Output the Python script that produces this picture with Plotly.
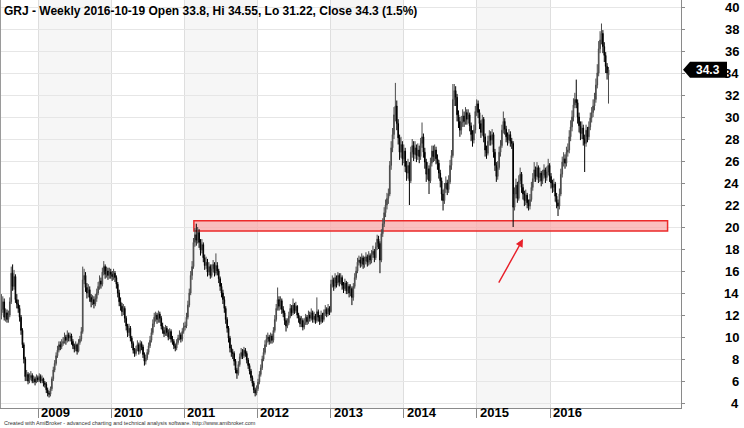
import plotly.graph_objects as go
import pandas as pd

# ---------------- data (weekly bars, GRJ) ----------------
first_week = "2008-07-02"

opens = [
    12.0, 12.5, 13.2, 11.8, 12.2, 11.6, 12.0, 13.2, 15.8, 14.6,
    15.5, 13.4, 13.0, 12.6, 11.8, 10.6, 9.3, 8.0, 6.4, 6.6,
    6.0, 6.3, 6.5, 6.0, 6.2, 5.9, 6.3, 6.1, 6.4, 6.0,
    6.2, 5.8, 5.7, 5.2, 4.9, 4.8, 5.3, 6.2, 7.0, 7.6,
    8.3, 8.8, 9.3, 9.1, 9.4, 9.6, 10.0, 9.7, 10.2, 9.9,
    10.1, 9.6, 9.2, 8.9, 9.3, 8.7, 9.5, 9.8, 10.5, 15.2,
    15.6, 14.5, 14.0, 14.3, 13.6, 13.2, 13.4, 13.0, 13.5, 14.0,
    14.6, 15.1, 14.8, 15.9, 16.4, 15.7, 16.0, 15.6, 15.9, 15.7,
    15.5, 15.8, 15.4, 14.8, 14.0, 13.2, 12.8, 12.3, 12.6, 11.7,
    11.0, 10.4, 10.8, 9.9, 9.4, 8.8, 8.5, 8.9, 9.3, 8.7,
    9.4, 9.1, 8.4, 7.8, 8.1, 8.6, 9.2, 9.7, 10.4, 11.2,
    11.8, 12.0, 11.6, 12.1, 11.7, 11.0, 10.6, 10.3, 10.8, 10.4,
    10.0, 10.5, 9.8, 9.6, 9.2, 9.0, 9.5, 9.9, 10.2, 9.8,
    10.5, 10.9, 11.0, 11.8, 12.9, 14.0, 15.6, 16.4, 18.6, 19.3,
    18.8, 19.5, 18.6, 17.9, 18.4, 17.2, 16.5, 16.8, 15.9, 16.4,
    15.6, 16.2, 16.6, 15.8, 16.5, 16.0, 15.3, 14.6, 14.0, 13.4,
    12.6, 11.6, 10.8, 9.9, 9.0, 8.6, 8.5, 7.8, 7.0, 6.7,
    7.5, 8.2, 8.6, 8.3, 8.8, 8.5, 7.9, 7.4, 6.9, 6.3,
    5.8, 5.2, 4.9, 5.3, 5.9, 6.6, 7.2, 8.0, 8.6, 9.3,
    9.8, 10.0, 9.6, 10.1, 9.7, 10.6, 11.6, 12.6, 13.4, 12.8,
    13.3, 12.5, 12.2, 11.5, 11.0, 11.3, 11.9, 12.6, 12.2, 12.9,
    12.4, 12.8, 12.0, 11.7, 11.2, 11.5, 10.9, 11.3, 11.8, 11.4,
    12.0, 11.7, 12.2, 11.6, 11.9, 11.5, 12.3, 11.8, 11.4, 12.0,
    11.6, 12.2, 12.5, 12.1, 12.6, 12.3, 14.8, 15.2, 14.6, 15.4,
    14.9, 15.6, 15.0, 15.4, 14.7, 14.4, 14.9, 14.2, 14.6, 14.0,
    14.4, 13.6, 14.6, 15.4, 16.0, 16.8, 17.0, 16.7, 17.2, 16.6,
    16.9, 17.3, 16.8, 17.4, 17.0, 17.5, 17.8, 17.2, 18.2, 18.9,
    18.5, 17.0, 19.4, 20.3, 21.3, 22.0, 22.6, 23.0, 25.6, 27.2,
    28.4, 30.2, 31.0, 29.4, 28.1, 26.8, 27.5, 26.2, 26.9, 25.5,
    24.9, 25.6, 24.2, 26.8, 27.4, 26.6, 27.2, 26.5, 27.0, 26.4,
    27.6, 28.2, 26.8, 25.9, 24.8, 25.3, 24.2, 25.8, 26.9, 26.4,
    27.0, 26.2, 25.8, 24.9, 24.2, 23.0, 22.4, 23.5, 24.0, 23.4,
    24.1, 25.6, 26.5, 31.6, 32.4, 31.8, 30.2, 29.6, 28.8, 29.5,
    30.1, 29.6, 30.4, 29.8, 30.2, 29.2, 28.4, 27.9, 28.8, 30.5,
    31.2, 30.4, 29.4, 28.6, 29.8, 28.2, 27.0, 26.7, 27.8, 28.3,
    27.9, 28.4, 26.8, 25.6, 24.6, 25.4, 26.8, 27.4, 28.8, 29.6,
    28.9, 28.2, 27.9, 28.4, 27.8, 27.6, 21.8, 23.0, 23.8, 22.6,
    24.2, 24.8, 23.6, 23.0, 22.4, 22.9, 22.2, 21.9, 22.5, 23.6,
    24.4, 25.2, 24.6, 25.4, 24.5, 24.9, 24.2, 24.7, 25.2, 24.5,
    25.0, 25.6, 24.6, 24.0, 23.6, 23.9, 22.8, 22.2, 21.9, 23.0,
    24.8, 25.9, 26.2, 25.8, 26.8, 27.0, 28.2, 29.1, 30.0, 31.1,
    31.6, 31.3, 30.0, 29.2, 28.5, 29.0, 28.0, 27.6, 28.8, 28.2,
    29.1, 29.9, 30.4, 31.0, 31.6, 32.9, 34.0, 36.2, 37.0, 37.6,
    36.4, 35.6, 34.6, 33.8,
]

highs = [
    13.9, 13.7, 13.5, 12.6, 12.5, 12.4, 13.6, 16.4, 16.6, 16.1,
    15.7, 13.9, 13.4, 12.9, 12.0, 10.8, 9.5, 8.2, 7.0, 6.8,
    6.7, 6.9, 6.7, 6.5, 6.4, 6.6, 6.5, 6.7, 6.6, 6.5,
    6.3, 6.0, 5.9, 5.4, 5.1, 5.5, 6.4, 7.3, 7.9, 8.6,
    9.2, 9.6, 9.6, 9.8, 10.0, 10.4, 10.2, 10.6, 10.4, 10.4,
    10.3, 9.8, 9.4, 9.6, 9.4, 9.8, 10.1, 10.9, 16.4, 16.2,
    15.9, 14.9, 14.8, 14.6, 13.9, 13.8, 13.7, 13.9, 14.4, 15.0,
    15.6, 15.4, 16.3, 16.9, 16.6, 16.4, 16.3, 16.3, 16.2, 16.0,
    16.2, 16.0, 15.6, 15.0, 14.3, 13.6, 13.1, 13.0, 12.8, 11.9,
    11.2, 11.2, 11.0, 10.1, 9.6, 9.0, 9.2, 9.7, 9.5, 9.7,
    9.6, 9.3, 8.6, 8.4, 8.9, 9.5, 10.1, 10.8, 11.6, 12.2,
    12.3, 12.2, 12.4, 12.3, 11.9, 11.3, 10.9, 11.1, 11.0, 10.7,
    10.8, 10.7, 10.1, 9.8, 9.4, 9.8, 10.2, 10.6, 10.4, 10.8,
    11.3, 11.4, 12.2, 13.3, 14.4, 16.0, 16.9, 19.0, 19.9, 20.3,
    20.0, 19.8, 18.9, 18.9, 18.6, 17.5, 17.3, 17.1, 16.8, 16.6,
    16.6, 17.0, 16.8, 17.6, 16.8, 16.2, 15.5, 14.9, 14.3, 13.7,
    12.8, 11.8, 11.0, 10.1, 9.3, 8.9, 8.7, 8.0, 7.2, 7.8,
    8.5, 9.0, 8.9, 9.1, 9.0, 8.7, 8.1, 7.6, 7.1, 6.5,
    6.0, 5.4, 5.6, 6.2, 6.9, 7.5, 8.3, 9.0, 9.7, 10.2,
    10.4, 10.2, 10.4, 10.3, 10.9, 12.0, 13.0, 14.5, 13.7, 13.7,
    13.5, 12.8, 12.4, 11.7, 11.7, 12.3, 13.0, 12.9, 13.5, 13.1,
    13.2, 12.9, 12.2, 11.9, 11.9, 11.7, 11.7, 12.1, 12.0, 12.4,
    12.3, 12.6, 12.4, 12.3, 12.1, 13.6, 12.5, 12.0, 12.4, 12.2,
    12.5, 12.9, 12.7, 13.0, 12.8, 15.2, 15.6, 15.4, 15.8, 15.6,
    15.9, 15.8, 15.8, 15.6, 15.0, 15.3, 15.1, 15.0, 14.8, 14.8,
    14.6, 14.9, 15.8, 16.4, 17.2, 17.4, 17.3, 17.6, 17.4, 17.3,
    17.7, 17.5, 17.8, 17.6, 17.9, 18.3, 18.0, 18.6, 19.3, 19.2,
    18.7, 19.8, 20.8, 21.8, 22.5, 23.1, 23.5, 26.0, 27.8, 29.0,
    30.9, 33.1, 31.5, 29.8, 28.4, 28.2, 27.8, 27.5, 27.2, 26.0,
    26.2, 25.9, 27.3, 28.0, 27.8, 27.8, 27.5, 27.6, 27.4, 28.1,
    29.5, 28.5, 27.2, 26.2, 25.9, 25.6, 26.3, 27.4, 27.4, 27.5,
    27.3, 26.6, 26.1, 25.2, 24.5, 23.4, 24.0, 24.6, 24.3, 24.7,
    26.1, 27.0, 33.0, 33.0, 32.8, 32.1, 30.6, 30.0, 30.1, 30.7,
    30.5, 30.9, 30.7, 30.7, 30.4, 29.5, 28.8, 29.3, 31.0, 31.6,
    31.5, 30.7, 29.7, 30.2, 30.0, 28.5, 27.4, 28.3, 28.8, 28.7,
    28.9, 28.6, 27.1, 25.9, 26.0, 27.3, 27.9, 29.3, 30.5, 29.9,
    29.2, 28.6, 28.9, 28.7, 28.1, 27.8, 23.6, 24.4, 24.1, 24.7,
    25.4, 25.0, 23.9, 23.3, 23.4, 23.1, 22.5, 23.0, 24.1, 24.9,
    25.9, 25.5, 25.9, 25.6, 25.4, 25.1, 25.2, 25.7, 25.4, 25.5,
    26.2, 25.8, 24.9, 24.3, 24.4, 24.1, 23.1, 22.5, 23.5, 25.3,
    26.4, 26.8, 26.6, 27.3, 27.6, 28.8, 29.7, 30.6, 31.7, 32.2,
    33.4, 31.6, 30.4, 29.6, 29.6, 29.3, 28.4, 29.3, 29.1, 29.6,
    30.4, 30.9, 31.6, 32.2, 33.5, 34.8, 36.9, 37.8, 38.5, 37.9,
    36.8, 35.9, 34.9, 34.55,
]

lows = [
    11.6, 12.2, 11.5, 11.4, 11.3, 11.3, 11.8, 13.0, 14.2, 14.3,
    13.1, 12.6, 12.2, 11.4, 10.2, 9.0, 7.6, 6.0, 6.0, 5.7,
    5.8, 6.1, 5.8, 5.8, 5.6, 5.8, 5.9, 5.9, 5.8, 5.8,
    5.5, 5.4, 4.9, 4.6, 4.5, 4.6, 5.1, 6.0, 6.8, 7.4,
    8.1, 8.6, 8.8, 8.9, 9.2, 9.4, 9.3, 9.5, 9.6, 9.6,
    9.3, 8.9, 8.6, 8.7, 8.4, 8.6, 9.3, 9.6, 10.3, 14.8,
    14.1, 13.5, 13.6, 13.2, 12.7, 12.9, 12.6, 12.8, 13.2, 13.8,
    14.3, 14.4, 14.6, 15.6, 15.3, 15.4, 15.2, 15.3, 15.3, 15.1,
    15.2, 15.0, 14.4, 13.6, 12.8, 12.4, 11.9, 12.0, 11.3, 10.6,
    10.0, 10.1, 9.6, 9.0, 8.5, 8.2, 8.3, 8.7, 8.4, 8.5,
    8.8, 8.1, 7.4, 7.5, 7.9, 8.4, 9.0, 9.5, 10.2, 10.9,
    11.4, 11.2, 11.3, 11.3, 10.7, 10.3, 10.0, 10.1, 10.1, 9.7,
    9.8, 9.5, 9.3, 8.9, 8.7, 8.8, 9.3, 9.7, 9.5, 9.6,
    10.3, 10.6, 10.8, 11.6, 12.7, 13.8, 15.2, 16.2, 18.2, 18.3,
    18.5, 18.1, 17.4, 17.6, 16.8, 16.1, 16.2, 15.5, 15.6, 15.3,
    15.4, 15.9, 15.5, 15.6, 15.6, 14.9, 14.2, 13.6, 13.0, 12.2,
    11.2, 10.4, 9.5, 8.6, 8.2, 8.0, 7.4, 6.7, 6.2, 6.5,
    7.3, 8.0, 8.0, 8.1, 8.2, 7.6, 7.1, 6.6, 6.0, 5.5,
    4.9, 4.6, 4.7, 5.1, 5.7, 6.4, 7.0, 7.8, 8.4, 9.1,
    9.5, 9.3, 9.4, 9.4, 9.5, 10.4, 11.4, 12.4, 12.4, 12.5,
    12.1, 11.8, 11.1, 10.5, 10.8, 11.1, 11.7, 11.9, 12.0, 12.1,
    12.2, 11.7, 11.3, 10.9, 10.9, 10.6, 10.7, 11.1, 11.1, 11.2,
    11.4, 11.5, 11.3, 11.3, 11.2, 11.3, 11.4, 11.1, 11.2, 11.3,
    11.4, 11.9, 11.8, 11.9, 12.0, 12.2, 14.5, 14.2, 14.4, 14.5,
    14.7, 14.6, 14.8, 14.3, 14.0, 14.2, 13.9, 13.9, 13.6, 13.7,
    12.9, 13.3, 14.4, 15.2, 15.8, 16.5, 16.3, 16.4, 16.2, 16.3,
    16.6, 16.4, 16.5, 16.6, 16.7, 17.2, 16.8, 17.0, 17.9, 18.0,
    15.8, 16.8, 19.1, 20.0, 20.9, 21.6, 22.1, 22.8, 25.2, 26.8,
    28.0, 29.6, 28.8, 27.5, 26.1, 26.3, 25.6, 25.8, 25.0, 24.2,
    24.4, 22.0, 24.0, 26.3, 26.0, 26.2, 25.9, 26.1, 25.8, 26.1,
    27.2, 26.3, 25.3, 24.1, 24.3, 23.0, 24.0, 25.5, 25.9, 26.0,
    25.7, 25.2, 24.4, 23.6, 22.4, 21.5, 22.1, 23.1, 22.9, 23.1,
    23.9, 25.2, 26.3, 31.0, 31.0, 29.6, 29.0, 28.2, 28.4, 29.1,
    29.1, 29.3, 29.3, 29.4, 28.7, 27.8, 27.3, 27.6, 28.5, 30.1,
    29.9, 28.9, 28.1, 28.3, 27.7, 26.4, 26.2, 26.5, 27.4, 27.4,
    27.5, 26.3, 25.1, 24.1, 24.3, 25.2, 26.4, 27.2, 28.5, 28.4,
    27.7, 27.4, 27.6, 27.3, 27.1, 20.0, 21.5, 22.6, 22.2, 22.4,
    23.9, 23.1, 22.5, 21.9, 22.0, 21.7, 21.5, 21.6, 22.3, 23.3,
    24.1, 24.1, 24.3, 24.0, 24.1, 23.7, 23.9, 24.4, 24.0, 24.2,
    24.7, 24.1, 23.5, 23.1, 23.2, 22.3, 21.7, 21.0, 21.6, 22.8,
    24.5, 25.5, 25.3, 25.5, 26.4, 26.7, 27.8, 28.7, 29.6, 30.8,
    30.8, 29.4, 28.6, 27.9, 28.0, 27.4, 25.0, 27.3, 27.7, 27.9,
    28.8, 29.5, 30.0, 30.6, 31.3, 32.6, 33.7, 35.8, 36.6, 35.8,
    35.0, 34.0, 33.4, 31.22,
]

closes = [
    12.5, 13.2, 11.8, 12.2, 11.6, 12.0, 13.2, 15.8, 14.6, 15.5,
    13.4, 13.0, 12.6, 11.8, 10.6, 9.3, 8.0, 6.4, 6.6, 6.0,
    6.3, 6.5, 6.0, 6.2, 5.9, 6.3, 6.1, 6.4, 6.0, 6.2,
    5.8, 5.7, 5.2, 4.9, 4.8, 5.3, 6.2, 7.0, 7.6, 8.3,
    8.8, 9.3, 9.1, 9.4, 9.6, 10.0, 9.7, 10.2, 9.9, 10.1,
    9.6, 9.2, 8.9, 9.3, 8.7, 9.5, 9.8, 10.5, 15.2, 15.6,
    14.5, 14.0, 14.3, 13.6, 13.2, 13.4, 13.0, 13.5, 14.0, 14.6,
    15.1, 14.8, 15.9, 16.4, 15.7, 16.0, 15.6, 15.9, 15.7, 15.5,
    15.8, 15.4, 14.8, 14.0, 13.2, 12.8, 12.3, 12.6, 11.7, 11.0,
    10.4, 10.8, 9.9, 9.4, 8.8, 8.5, 8.9, 9.3, 8.7, 9.4,
    9.1, 8.4, 7.8, 8.1, 8.6, 9.2, 9.7, 10.4, 11.2, 11.8,
    12.0, 11.6, 12.1, 11.7, 11.0, 10.6, 10.3, 10.8, 10.4, 10.0,
    10.5, 9.8, 9.6, 9.2, 9.0, 9.5, 9.9, 10.2, 9.8, 10.5,
    10.9, 11.0, 11.8, 12.9, 14.0, 15.6, 16.4, 18.6, 19.3, 18.8,
    19.5, 18.6, 17.9, 18.4, 17.2, 16.5, 16.8, 15.9, 16.4, 15.6,
    16.2, 16.6, 15.8, 16.5, 16.0, 15.3, 14.6, 14.0, 13.4, 12.6,
    11.6, 10.8, 9.9, 9.0, 8.6, 8.5, 7.8, 7.0, 6.7, 7.5,
    8.2, 8.6, 8.3, 8.8, 8.5, 7.9, 7.4, 6.9, 6.3, 5.8,
    5.2, 4.9, 5.3, 5.9, 6.6, 7.2, 8.0, 8.6, 9.3, 9.8,
    10.0, 9.6, 10.1, 9.7, 10.6, 11.6, 12.6, 13.4, 12.8, 13.3,
    12.5, 12.2, 11.5, 11.0, 11.3, 11.9, 12.6, 12.2, 12.9, 12.4,
    12.8, 12.0, 11.7, 11.2, 11.5, 10.9, 11.3, 11.8, 11.4, 12.0,
    11.7, 12.2, 11.6, 11.9, 11.5, 12.3, 11.8, 11.4, 12.0, 11.6,
    12.2, 12.5, 12.1, 12.6, 12.3, 14.8, 15.2, 14.6, 15.4, 14.9,
    15.6, 15.0, 15.4, 14.7, 14.4, 14.9, 14.2, 14.6, 14.0, 14.4,
    13.6, 14.6, 15.4, 16.0, 16.8, 17.0, 16.7, 17.2, 16.6, 16.9,
    17.3, 16.8, 17.4, 17.0, 17.5, 17.8, 17.2, 18.2, 18.9, 18.5,
    17.0, 19.4, 20.3, 21.3, 22.0, 22.6, 23.0, 25.6, 27.2, 28.4,
    30.2, 31.0, 29.4, 28.1, 26.8, 27.5, 26.2, 26.9, 25.5, 24.9,
    25.6, 24.2, 26.8, 27.4, 26.6, 27.2, 26.5, 27.0, 26.4, 27.6,
    28.2, 26.8, 25.9, 24.8, 25.3, 24.2, 25.8, 26.9, 26.4, 27.0,
    26.2, 25.8, 24.9, 24.2, 23.0, 22.4, 23.5, 24.0, 23.4, 24.1,
    25.6, 26.5, 31.6, 32.4, 31.8, 30.2, 29.6, 28.8, 29.5, 30.1,
    29.6, 30.4, 29.8, 30.2, 29.2, 28.4, 27.9, 28.8, 30.5, 31.2,
    30.4, 29.4, 28.6, 29.8, 28.2, 27.0, 26.7, 27.8, 28.3, 27.9,
    28.4, 26.8, 25.6, 24.6, 25.4, 26.8, 27.4, 28.8, 29.6, 28.9,
    28.2, 27.9, 28.4, 27.8, 27.6, 21.8, 23.0, 23.8, 22.6, 24.2,
    24.8, 23.6, 23.0, 22.4, 22.9, 22.2, 21.9, 22.5, 23.6, 24.4,
    25.2, 24.6, 25.4, 24.5, 24.9, 24.2, 24.7, 25.2, 24.5, 25.0,
    25.6, 24.6, 24.0, 23.6, 23.9, 22.8, 22.2, 21.9, 23.0, 24.8,
    25.9, 26.2, 25.8, 26.8, 27.0, 28.2, 29.1, 30.0, 31.1, 31.6,
    31.3, 30.0, 29.2, 28.5, 29.0, 28.0, 27.6, 28.8, 28.2, 29.1,
    29.9, 30.4, 31.0, 31.6, 32.9, 34.0, 36.2, 37.0, 37.6, 36.4,
    35.6, 34.6, 34.0, 34.3,
]

year_tick_dates = ["2009-01-01", "2010-01-01", "2011-01-01", "2012-01-01",
                   "2013-01-01", "2014-01-01", "2015-01-01", "2016-01-01"]
year_labels = ["2009", "2010", "2011", "2012", "2013", "2014", "2015", "2016"]
shaded_years = [2009, 2011, 2013, 2015]
price_ticks = [4, 6, 8, 10, 12, 14, 16, 18, 20, 22, 24, 26, 28, 30, 32, 34, 36, 38, 40]

zone_low, zone_high = 19.64, 20.56
zone_start, zone_end = "2011-02-18", "2017-08-10"
arrow_tail_date, arrow_tail_price = "2015-04-16", 14.8
arrow_head_date, arrow_head_price = "2015-08-19", 18.9
last_close = 34.3

title_text = "GRJ - Weekly 2016-10-19 Open 33.8, Hi 34.55, Lo 31.22, Close 34.3 (1.5%)"
footer_text = ("Created with AmiBroker - advanced charting and technical analysis software. "
               "http://www.amibroker.com")

dates = pd.date_range(first_week, periods=len(closes), freq="7D")

# ---------------- figure ----------------
FONT = "Liberation Sans, Arial, sans-serif"
W, H = 744, 428
ML, MR, MT, MB = 0, 63, 0, 20
PW = W - ML - MR

fig = go.Figure()
fig.add_trace(go.Candlestick(
    x=dates, open=opens, high=highs, low=lows, close=closes,
    increasing=dict(line=dict(color="#4a4a4a", width=1), fillcolor="#8c8c8c"),
    decreasing=dict(line=dict(color="#000000", width=1), fillcolor="#000000"),
    whiskerwidth=0, hoverinfo="skip", showlegend=False,
))

shapes = []
for yr in shaded_years:
    shapes.append(dict(type="rect", xref="x", yref="paper",
                       x0=f"{yr}-01-01", x1=f"{yr + 1}-01-01", y0=0, y1=1,
                       fillcolor="#f6f6f6", line=dict(width=0), layer="below"))
# support zone
shapes.append(dict(type="rect", xref="x", yref="y",
                   x0=zone_start, x1=zone_end, y0=zone_low, y1=zone_high,
                   fillcolor="rgba(250,170,170,0.75)",
                   line=dict(color="#ec2a2a", width=1.5), layer="between"))
# left border
shapes.append(dict(type="line", xref="paper", yref="paper", x0=0, x1=0, y0=0, y1=1,
                   line=dict(color="#9a9a9a", width=2)))
# last price marker
shapes.append(dict(type="path", xref="paper", yref="y",
                   xsizemode="pixel", ysizemode="pixel",
                   xanchor=1, yanchor=last_close,
                   path="M 2,0 L 9,8 L 46,8 L 46,-8 L 9,-8 Z",
                   fillcolor="#000000", line=dict(width=0), layer="above"))

annotations = []
for v in price_ticks:
    annotations.append(dict(xref="paper", yref="y", x=(741 - ML) / PW, y=v,
                            xanchor="right", yanchor="middle", text=str(v),
                            showarrow=False,
                            font=dict(family=FONT, size=13, color="#000", weight="bold")))
for d, lab in zip(year_tick_dates, year_labels):
    annotations.append(dict(xref="x", yref="paper", x=d, y=0, yshift=-4,
                            xanchor="left", yanchor="middle", xshift=1, text=lab,
                            showarrow=False,
                            font=dict(family=FONT, size=13, color="#000", weight="bold")))
annotations.append(dict(xref="paper", yref="y", x=(708 - ML) / PW, y=last_close,
                        xanchor="center", yanchor="middle", text=str(last_close),
                        showarrow=False,
                        font=dict(family=FONT, size=12, color="#ffffff", weight="bold")))
annotations.append(dict(xref="paper", yref="paper", x=0, y=1, xshift=2, yshift=-2,
                        xanchor="left", yanchor="top", text=title_text, showarrow=False,
                        font=dict(family=FONT, size=12, color="#000", weight="bold")))
annotations.append(dict(xref="paper", yref="paper", x=0, y=0, xshift=2, yshift=-15,
                        xanchor="left", yanchor="middle", text=footer_text, showarrow=False,
                        font=dict(family=FONT, size=5.5, color="#333")))
annotations.append(dict(xref="x", yref="y", axref="x", ayref="y",
                        x=arrow_head_date, y=arrow_head_price,
                        ax=arrow_tail_date, ay=arrow_tail_price,
                        text="", showarrow=True, arrowhead=2, arrowsize=1.1,
                        arrowwidth=1.4, arrowcolor="#e8202a"))

fig.update_layout(
    width=W, height=H,
    margin=dict(l=ML, r=MR, t=MT, b=MB),
    paper_bgcolor="#ffffff", plot_bgcolor="#ffffff",
    showlegend=False,
    shapes=shapes, annotations=annotations,
    xaxis=dict(type="date", range=["2008-06-25", "2017-10-16"],
               rangeslider=dict(visible=False),
               tickvals=year_tick_dates, showticklabels=False,
               ticks="outside", ticklen=9, tickcolor="#8a8a8a",
               showgrid=True, gridcolor="#dedede", gridwidth=1,
               showline=True, linecolor="#8a8a8a", linewidth=1,
               zeroline=False, fixedrange=True),
    yaxis=dict(side="right", range=[3.545, 40.636],
               tickvals=price_ticks, showticklabels=False,
               ticks="outside", ticklen=3, tickcolor="#8a8a8a",
               showgrid=True, gridcolor="#e6e6e6", gridwidth=1,
               showline=True, linecolor="#8a8a8a", linewidth=1,
               zeroline=False, fixedrange=True),
)

fig.write_html(
    "out.html",
    config={"displayModeBar": False},
    post_script="document.body.style.margin='0';document.body.style.overflow='hidden';",
)
